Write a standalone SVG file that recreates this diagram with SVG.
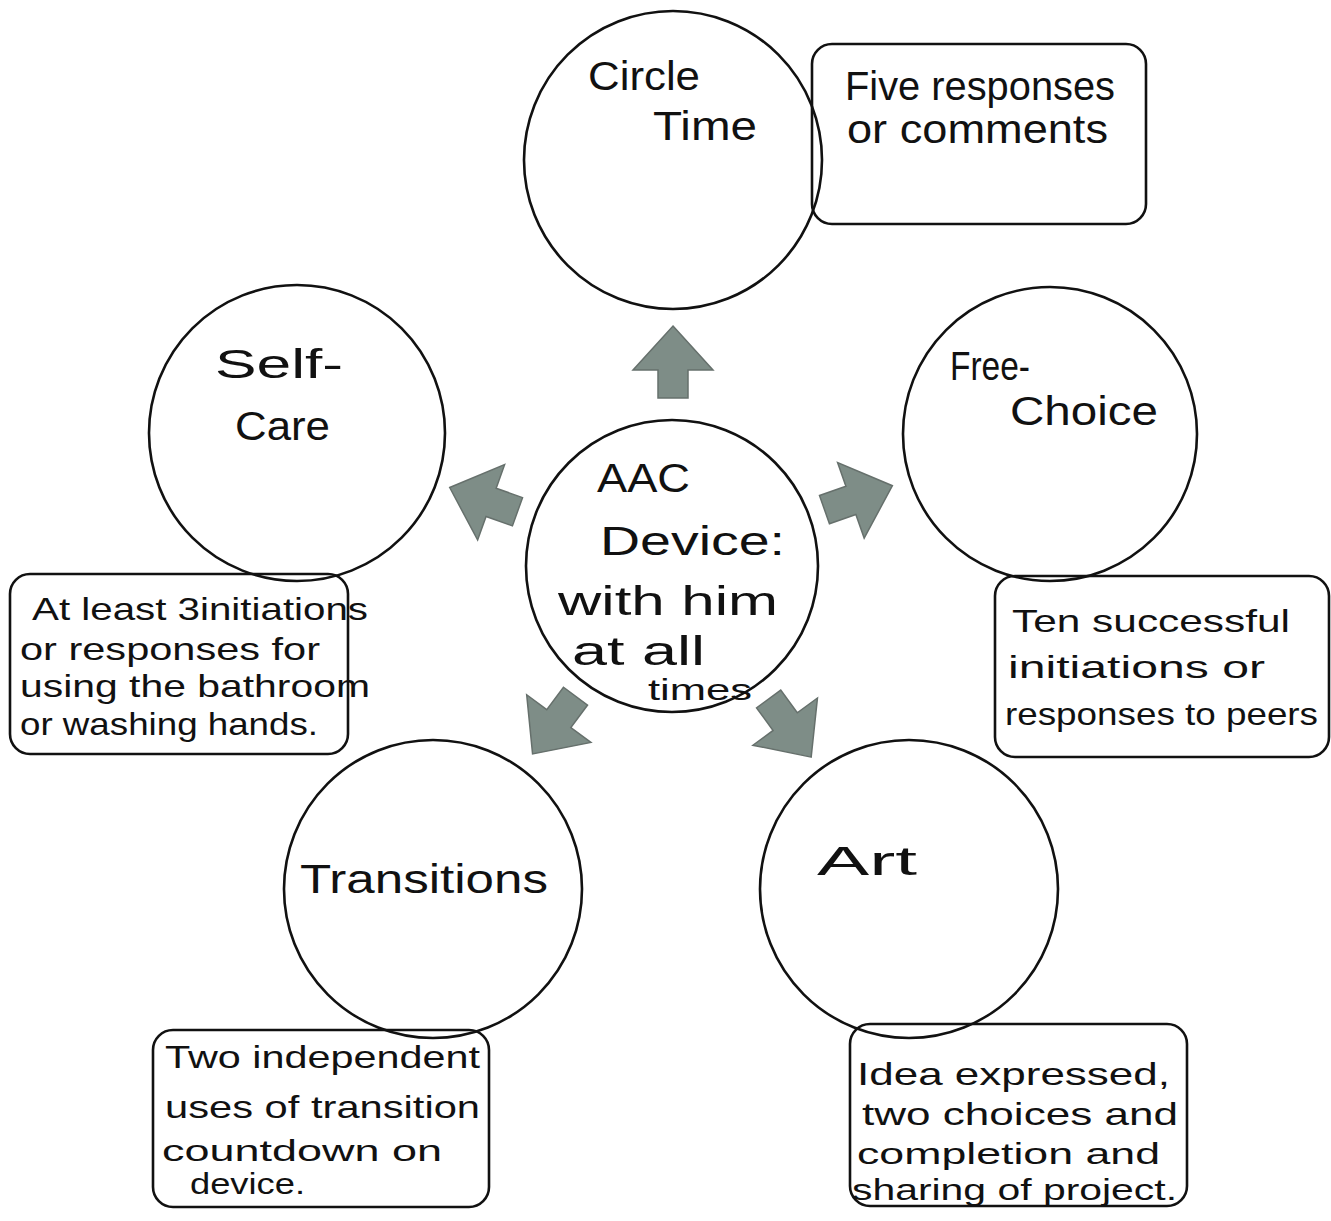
<svg xmlns="http://www.w3.org/2000/svg" width="1331" height="1221" viewBox="0 0 1331 1221">
<style>
.c{fill:none;stroke:#111;stroke-width:2.6}
.b{fill:none;stroke:#111;stroke-width:2.6}
.t{font-family:"Liberation Sans",Arial,sans-serif;font-size:40px;fill:#111}
.s{font-family:"Liberation Sans",Arial,sans-serif;font-size:32px;fill:#111}
.x{font-family:"Liberation Sans",Arial,sans-serif;font-size:29px;fill:#111}
.a{fill:#7e8d87;stroke:#66706c;stroke-width:1.5}
</style>
<defs>
<polygon id="arr" points="0,-46 40,-2 15,-2 15,26 -15,26 -15,-2 -40,-2"/>
</defs>
<rect width="1331" height="1221" fill="#fff"/>
<g id="connectors">
<use href="#arr" class="a" transform="translate(673,372)"/>
<use href="#arr" class="a" transform="translate(493,503) rotate(-70.3)"/>
<use href="#arr" class="a" transform="translate(849,501) rotate(70.6)"/>
<use href="#arr" class="a" transform="translate(560,717) rotate(-143.4)"/>
<use href="#arr" class="a" transform="translate(784,720) rotate(143.8)"/>
</g>
<g id="aac">
<circle class="c" cx="672" cy="566" r="146"/>
<text class="t" x="597" y="492" textLength="93" lengthAdjust="spacingAndGlyphs">AAC</text>
<text class="t" x="600" y="555" textLength="185" lengthAdjust="spacingAndGlyphs">Device:</text>
<text class="t" x="558" y="615" textLength="220" lengthAdjust="spacingAndGlyphs">with him</text>
<text class="t" x="572" y="665" textLength="133" lengthAdjust="spacingAndGlyphs">at all</text>
<text class="x" x="648" y="700" textLength="104" lengthAdjust="spacingAndGlyphs">times</text>
</g>
<g id="circle-time">
<circle class="c" cx="673" cy="160" r="149"/>
<text class="t" x="588" y="90" textLength="112" lengthAdjust="spacingAndGlyphs">Circle</text>
<text class="t" x="653" y="140" textLength="104" lengthAdjust="spacingAndGlyphs">Time</text>
</g>
<g id="circle-time-goal">
<rect class="b" x="812" y="44" width="334" height="180" rx="20"/>
<text class="t" x="845" y="100" textLength="270" lengthAdjust="spacingAndGlyphs">Five responses</text>
<text class="t" x="847" y="143" textLength="261" lengthAdjust="spacingAndGlyphs">or comments</text>
</g>
<g id="self-care">
<circle class="c" cx="297" cy="433" r="148"/>
<text class="t" x="215" y="378" textLength="128" lengthAdjust="spacingAndGlyphs">Self-</text>
<text class="t" x="235" y="440" textLength="95" lengthAdjust="spacingAndGlyphs">Care</text>
</g>
<g id="self-care-goal">
<rect class="b" x="10" y="574" width="338" height="180" rx="20"/>
<text class="s" x="32" y="620" textLength="336" lengthAdjust="spacingAndGlyphs">At least 3initiations</text>
<text class="s" x="20" y="660" textLength="300" lengthAdjust="spacingAndGlyphs">or responses for</text>
<text class="s" x="20" y="697" textLength="350" lengthAdjust="spacingAndGlyphs">using the bathroom</text>
<text class="s" x="20" y="735" textLength="298" lengthAdjust="spacingAndGlyphs">or washing hands.</text>
</g>
<g id="free-choice">
<circle class="c" cx="1050" cy="434" r="147"/>
<text class="t" x="950" y="380" textLength="80" lengthAdjust="spacingAndGlyphs">Free-</text>
<text class="t" x="1010" y="425" textLength="148" lengthAdjust="spacingAndGlyphs">Choice</text>
</g>
<g id="free-choice-goal">
<rect class="b" x="995" y="576" width="334" height="181" rx="20"/>
<text class="s" x="1012" y="632" textLength="278" lengthAdjust="spacingAndGlyphs">Ten successful</text>
<text class="s" x="1008" y="678" textLength="257" lengthAdjust="spacingAndGlyphs">initiations or</text>
<text class="s" x="1005" y="725" textLength="313" lengthAdjust="spacingAndGlyphs">responses to peers</text>
</g>
<g id="transitions">
<circle class="c" cx="433" cy="889" r="149"/>
<text class="t" x="300" y="893" textLength="248" lengthAdjust="spacingAndGlyphs">Transitions</text>
</g>
<g id="transitions-goal">
<rect class="b" x="153" y="1030" width="336" height="177" rx="20"/>
<text class="s" x="165" y="1068" textLength="315" lengthAdjust="spacingAndGlyphs">Two independent</text>
<text class="s" x="165" y="1118" textLength="315" lengthAdjust="spacingAndGlyphs">uses of transition</text>
<text class="x" x="162" y="1161" textLength="280" lengthAdjust="spacingAndGlyphs">countdown on</text>
<text class="x" x="190" y="1194" textLength="115" lengthAdjust="spacingAndGlyphs">device.</text>
</g>
<g id="art">
<circle class="c" cx="909" cy="889" r="149"/>
<text class="t" x="817" y="875" textLength="100" lengthAdjust="spacingAndGlyphs">Art</text>
</g>
<g id="art-goal">
<rect class="b" x="850" y="1024" width="337" height="182" rx="20"/>
<text class="s" x="857" y="1085" textLength="313" lengthAdjust="spacingAndGlyphs">Idea expressed,</text>
<text class="s" x="862" y="1125" textLength="316" lengthAdjust="spacingAndGlyphs">two choices and</text>
<text class="x" x="857" y="1164" textLength="303" lengthAdjust="spacingAndGlyphs">completion and</text>
<text class="x" x="852" y="1200" textLength="325" lengthAdjust="spacingAndGlyphs">sharing of project.</text>
</g>
</svg>
